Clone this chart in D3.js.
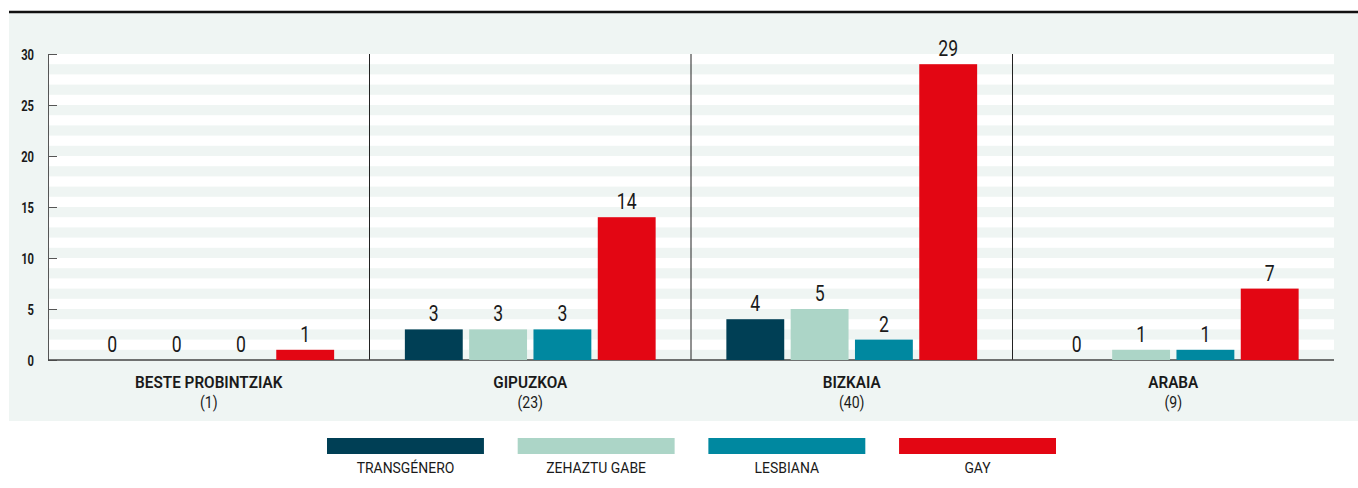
<!DOCTYPE html>
<html>
<head>
<meta charset="utf-8">
<script src="https://cdn.jsdelivr.net/npm/d3@7"></script>
<style>
body { margin: 0; background: #fff; }
svg text { font-family: "Roboto", "DejaVu Sans Condensed", sans-serif; fill: #1a1a1a; }
</style>
</head>
<body>
<div class="chart"></div>
<script>
var provinces = ['BESTE PROBINTZIAK', 'GIPUZKOA', 'BIZKAIA', 'ARABA'];
var totals = ['(1)', '(23)', '(40)', '(9)'];
var seriesNames = ['TRANSGÉNERO', 'ZEHAZTU GABE', 'LESBIANA', 'GAY'];
var transgenero = [0, 3, 4, 0];
var zehaztuGabe = [0, 3, 5, 1];
var lesbiana = [0, 3, 2, 1];
var gay = [1, 14, 29, 7];
var yTicks = [0, 5, 10, 15, 20, 25, 30];
var colors = ['#003f55', '#acd5c7', '#0088a0', '#e30613'];

var seriesValues = [transgenero, zehaztuGabe, lesbiana, gay];

var width = 1358, height = 488;
var margin = {top: 54, right: 24, bottom: 128, left: 48};
var innerW = width - margin.left - margin.right,
	innerH = height - margin.top - margin.bottom;

var svg = d3.select('.chart').append('svg')
	.attr('width', width)
	.attr('height', height);

// narrow text helper (fakes the condensed face)
function label(parent, x, y, str, size, weight, sq) {
	return parent.append('text')
		.attr('transform', 'translate(' + x + ',' + y + ') scale(' + (sq || 0.8) + ',1)')
		.style('text-anchor', 'middle')
		.style('font-size', size + 'px')
		.style('font-weight', weight || 'normal')
		.text(str);
}

// panel + top rule
svg.append('rect')
	.attr('x', 9).attr('y', 12)
	.attr('width', width - 9).attr('height', 409)
	.attr('fill', '#eff5f3');
svg.append('line')
	.attr('x1', 9).attr('x2', width)
	.attr('y1', 12).attr('y2', 12)
	.style('stroke', '#111').style('stroke-width', 2.5);

var x0 = d3.scaleBand().domain(provinces).range([0, innerW]).padding(0);
var x1 = d3.scaleBand().domain(seriesNames).range([0, x0.bandwidth()])
	.paddingInner(0.1).paddingOuter(0.55);
var y = d3.scaleLinear().domain([0, 30]).range([innerH, 0]);

var g = svg.append('g')
	.attr('transform', 'translate(' + margin.left + ',' + margin.top + ')');

// white stripes, one unit tall, every other unit
g.selectAll('.stripe')
	.data(d3.range(1, 30, 2))
	.enter().append('rect')
	.attr('class', 'stripe')
	.attr('x', 0)
	.attr('width', innerW)
	.attr('y', function(d) { return y(d + 1); })
	.attr('height', function(d) { return y(d) - y(d + 1); })
	.attr('fill', '#fff');

// group dividers
g.selectAll('.divider')
	.data(provinces.slice(1))
	.enter().append('line')
	.attr('class', 'divider')
	.attr('x1', function(d) { return x0(d); })
	.attr('x2', function(d) { return x0(d); })
	.attr('y1', 0).attr('y2', innerH)
	.style('stroke', '#222').style('stroke-width', 1);

// y axis
var yAxis = g.append('g')
	.attr('class', 'axis axis--y')
	.call(d3.axisRight(y).tickValues(yTicks).tickSize(9));
yAxis.select('.domain').style('stroke', '#555').attr('d', 'M0.5,0V' + innerH);
yAxis.selectAll('.tick line').style('stroke', '#555');
yAxis.selectAll('.tick text')
	.attr('x', -14 / 0.8)
	.attr('dy', '0.36em')
	.attr('transform', 'scale(0.8,1)')
	.style('text-anchor', 'end')
	.style('font-size', '14px')
	.style('font-weight', 'bold');

// baseline
g.append('line')
	.attr('x1', 0).attr('x2', innerW)
	.attr('y1', innerH).attr('y2', innerH)
	.style('stroke', '#444').style('stroke-width', 1.5);

// bars
var groups = g.selectAll('.group')
	.data(provinces)
	.enter().append('g')
	.attr('class', 'group')
	.attr('transform', function(d) { return 'translate(' + x0(d) + ',0)'; });

groups.each(function(p, i) {
	var rows = seriesNames.map(function(s, j) {
		return {key: s, value: seriesValues[j][i], color: colors[j]};
	});
	var sel = d3.select(this);
	sel.selectAll('rect')
		.data(rows)
		.enter().append('rect')
		.attr('x', function(d) { return x1(d.key); })
		.attr('width', x1.bandwidth())
		.attr('y', function(d) { return y(d.value); })
		.attr('height', function(d) { return innerH - y(d.value); })
		.attr('fill', function(d) { return d.color; });
	rows.forEach(function(d) {
		label(sel, x1(d.key) + x1.bandwidth() / 2, y(d.value) - 8, d.value, 22);
	});
	label(sel, x0.bandwidth() / 2, innerH + 28, p, 17, 600, 0.9);
	label(sel, x0.bandwidth() / 2, innerH + 48, totals[i], 16, 'normal', 0.88);
});

// legend
var legend = svg.append('g')
	.attr('class', 'legend')
	.attr('transform', 'translate(327,438)');
var legendX = d3.scaleBand().domain(seriesNames).range([0, 729]).paddingInner(0.177);
seriesNames.forEach(function(s, j) {
	legend.append('rect')
		.attr('x', legendX(s))
		.attr('width', legendX.bandwidth())
		.attr('height', 16)
		.attr('fill', colors[j]);
	label(legend, legendX(s) + legendX.bandwidth() / 2, 35, s, 15.5, 'normal', 0.9);
});
</script>
</body>
</html>
